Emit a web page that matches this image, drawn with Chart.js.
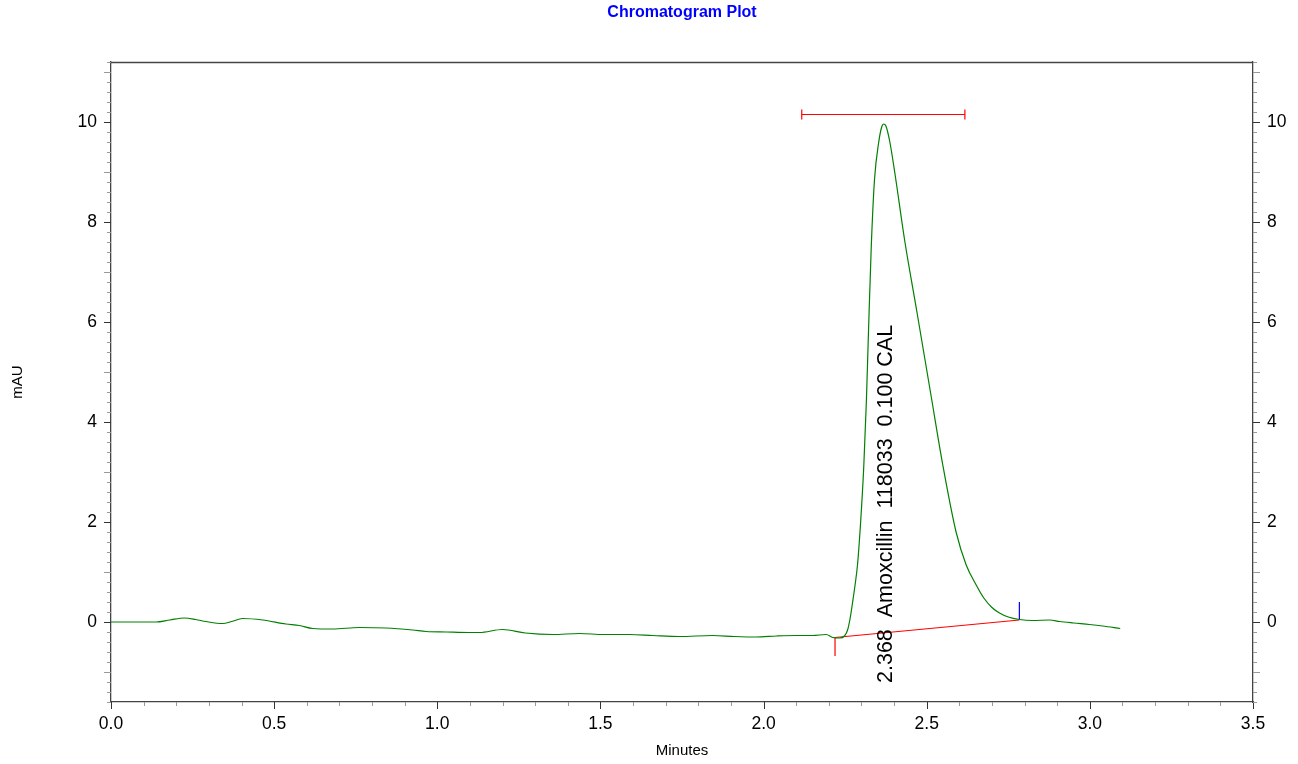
<!DOCTYPE html>
<html>
<head>
<meta charset="utf-8">
<title>Chromatogram Plot</title>
<script src="https://cdn.jsdelivr.net/npm/chart.js@4.4.1/dist/chart.umd.min.js"></script>
<style>
  body { margin: 0; background: #fff; }
  canvas { display: block; }
</style>
</head>
<body>
<canvas id="chromatogram" width="1298" height="764"></canvas>
<script>
// detector trace (minutes / mAU)
var traceTime = [0, 0.05, 0.1, 0.138, 0.18, 0.225, 0.26, 0.291, 0.342, 0.37, 0.403, 0.465, 0.536, 0.577,
  0.618, 0.679, 0.761, 0.843, 0.924, 0.966, 1.027, 1.098, 1.129, 1.2, 1.27, 1.354, 1.436, 1.51, 1.589,
  1.66, 1.742, 1.844, 1.91, 1.977, 2.04, 2.1, 2.15, 2.192, 2.212, 2.233, 2.248, 2.258, 2.266, 2.273,
  2.28, 2.288, 2.297, 2.307, 2.315, 2.322, 2.33, 2.34, 2.353, 2.362, 2.368, 2.375, 2.387, 2.403, 2.432,
  2.47, 2.514, 2.549, 2.59, 2.621, 2.65, 2.675, 2.7, 2.723, 2.75, 2.784, 2.824, 2.877, 2.907, 2.95,
  2.999, 3.039, 3.093];
var traceSignal = [0, 0, 0, 0, 0.04, 0.08, 0.05, 0.01, -0.03, 0.01, 0.07, 0.04, -0.04, -0.07,
  -0.13, -0.14, -0.11, -0.12, -0.16, -0.19, -0.2, -0.21, -0.21, -0.15, -0.22, -0.25, -0.23, -0.25, -0.25,
  -0.27, -0.29, -0.27, -0.29, -0.3, -0.28, -0.27, -0.27, -0.25, -0.31, -0.32, -0.28, -0.15, 0.1, 0.4,
  0.72, 1.15, 1.95, 3.1, 4.4, 5.9, 7.5, 8.85, 9.6, 9.9, 9.96, 9.92, 9.6, 8.95, 7.65,
  6.2, 4.5, 3.15, 1.8, 1.14, 0.76, 0.48, 0.29, 0.18, 0.1, 0.05, 0.03, 0.04, 0.01, -0.02,
  -0.05, -0.08, -0.13];

// integration of the peak
var peakTime = 2.368;
var peakName = 'Amoxcillin';
var peakArea = 118033;
var peakAmount = '0.100';
var peakLevel = 'CAL';
var baselineTime = [2.219, 2.784];
var baselineSignal = [-0.31, 0.04];
var startMark = [-0.31, -0.68];
var endMark = [0.04, 0.4];
var windowTime = [2.117, 2.617];
var windowLevel = 10.15;
var capSize = 0.1;
var labelFoot = -1.22;

// axes
var xTicks = [0, 0.5, 1, 1.5, 2, 2.5, 3, 3.5];
var yTicks = [0, 2, 4, 6, 8, 10];
var xRange = [0, 3.5];
var yRange = [-1.6, 11.2];

var FONT = "Arial, 'Liberation Sans', sans-serif";

function pts(xs, ys) {
  return xs.map(function (x, i) { return { x: x, y: ys[i] }; });
}

function segment(color, data) {
  return {
    data: data,
    borderColor: color,
    borderWidth: 1.2,
    pointRadius: 0,
    tension: 0,
    fill: false
  };
}

// outward tick marks, minor ones included, plus the top edge of the frame
var frameTicks = {
  id: 'frameTicks',
  afterDraw: function (chart) {
    var ctx = chart.ctx, a = chart.chartArea;
    var sx = chart.scales.x, sy = chart.scales.y;
    ctx.save();
    ctx.lineWidth = 1.3;
    ctx.strokeStyle = '#444';
    ctx.beginPath();
    ctx.moveTo(a.left, a.top + 0.5);
    ctx.lineTo(a.right, a.top + 0.5);
    ctx.stroke();

    ctx.lineWidth = 1;
    for (var i = 0; i <= 35; i++) {
      var px = Math.round(sx.getPixelForValue(i / 10)) + 0.5;
      var major = i % 5 === 0;
      ctx.strokeStyle = major ? '#333' : '#999';
      ctx.beginPath();
      ctx.moveTo(px, a.bottom);
      ctx.lineTo(px, a.bottom + (major ? 7 : 4));
      ctx.stroke();
    }
    for (var j = -8; j <= 56; j++) {
      var py = Math.round(sy.getPixelForValue(j / 5)) + 0.5;
      var len = 4, col = '#999';
      if (j % 10 === 0) { len = 7; col = '#333'; }
      else if (j % 5 === 0) { len = 7; col = '#999'; }
      ctx.strokeStyle = col;
      ctx.beginPath();
      ctx.moveTo(a.left, py);
      ctx.lineTo(a.left - len, py);
      ctx.moveTo(a.right, py);
      ctx.lineTo(a.right + len, py);
      ctx.stroke();
    }
    ctx.restore();
  }
};

// vertical peak label
var peakLabel = {
  id: 'peakLabel',
  afterDatasetsDraw: function (chart) {
    var ctx = chart.ctx;
    var px = chart.scales.x.getPixelForValue(peakTime);
    var py = chart.scales.y.getPixelForValue(labelFoot);
    var text = peakTime.toFixed(3) + '  ' + peakName + '  ' + peakArea + '  ' + peakAmount + ' ' + peakLevel;
    ctx.save();
    ctx.translate(px + 2, py);
    ctx.rotate(-Math.PI / 2);
    ctx.font = '21.5px ' + FONT;
    ctx.fillStyle = '#000';
    ctx.textAlign = 'left';
    ctx.textBaseline = 'middle';
    ctx.fillText(text, 0, 0);
    ctx.restore();
  }
};

var tickFont = { family: FONT, size: 17.5 };

new Chart(document.getElementById('chromatogram'), {
  type: 'line',
  data: {
    datasets: [
      {
        data: pts(traceTime, traceSignal),
        borderColor: '#008000',
        borderWidth: 1.2,
        pointRadius: 0,
        cubicInterpolationMode: 'monotone',
        fill: false
      },
      segment('#ff0000', pts(baselineTime, baselineSignal)),
      segment('#ff0000', pts([baselineTime[0], baselineTime[0]], startMark)),
      segment('#0000ff', pts([baselineTime[1], baselineTime[1]], endMark)),
      segment('#ff0000', pts(windowTime, [windowLevel, windowLevel])),
      segment('#ff0000', pts([windowTime[0], windowTime[0]], [windowLevel - capSize, windowLevel + capSize])),
      segment('#ff0000', pts([windowTime[1], windowTime[1]], [windowLevel - capSize, windowLevel + capSize]))
    ]
  },
  options: {
    responsive: false,
    animation: false,
    devicePixelRatio: 1,
    layout: { padding: 0 },
    plugins: {
      legend: { display: false },
      tooltip: { enabled: false },
      title: {
        display: true,
        fullSize: false,
        text: 'Chromatogram Plot',
        color: '#0000ff',
        font: { family: FONT, size: 16, weight: 'bold' },
        padding: { top: 3, bottom: 39.8 }
      }
    },
    scales: {
      x: {
        type: 'linear',
        position: 'bottom',
        min: xRange[0],
        max: xRange[1],
        afterBuildTicks: function (s) { s.ticks = xTicks.map(function (v) { return { value: v }; }); },
        afterFit: function (s) { s.height = 62; },
        ticks: {
          font: tickFont, color: '#000', padding: 12, maxRotation: 0, autoSkip: false,
          callback: function (v) { return Number(v).toFixed(1); }
        },
        grid: { drawOnChartArea: false, drawTicks: false },
        border: { color: '#444', width: 1.3 },
        title: { display: true, text: 'Minutes', color: '#000', font: { family: FONT, size: 15 }, padding: 4 }
      },
      y: {
        position: 'left',
        min: yRange[0],
        max: yRange[1],
        afterBuildTicks: function (s) { s.ticks = yTicks.map(function (v) { return { value: v }; }); },
        afterFit: function (s) { s.width = 111; },
        ticks: { font: tickFont, color: '#000', padding: 14, autoSkip: false },
        grid: { drawOnChartArea: false, drawTicks: false },
        border: { color: '#444', width: 1.3 },
        title: { display: true, text: 'mAU', color: '#000', font: { family: FONT, size: 15 }, padding: 9 }
      },
      y2: {
        position: 'right',
        min: yRange[0],
        max: yRange[1],
        afterBuildTicks: function (s) { s.ticks = yTicks.map(function (v) { return { value: v }; }); },
        afterFit: function (s) { s.width = 45; },
        ticks: { font: tickFont, color: '#000', padding: 14, autoSkip: false },
        grid: { drawOnChartArea: false, drawTicks: false },
        border: { color: '#444', width: 1.3 }
      }
    }
  },
  plugins: [frameTicks, peakLabel]
});
</script>
</body>
</html>
